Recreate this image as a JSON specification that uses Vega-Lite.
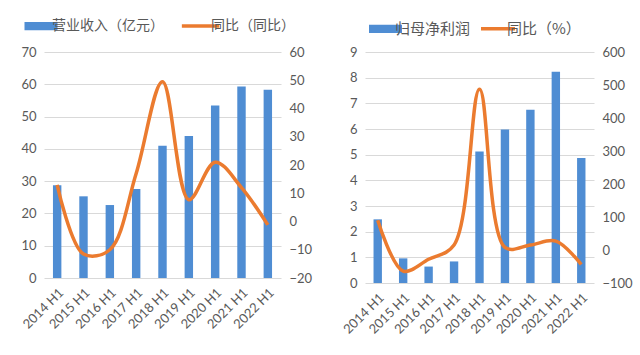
{
  "$schema": "https://vega.github.io/schema/vega-lite/v6.json",
  "background": "white",
  "padding": {"left": 20, "top": 19, "right": 5, "bottom": 5},
  "data": {"values": [
    {"period": "2014 H1", "rev": 28.7, "revYoY": 13, "np": 2.48, "npYoY": 90},
    {"period": "2015 H1", "rev": 25.3, "revYoY": -11.5, "np": 0.96, "npYoY": -64},
    {"period": "2016 H1", "rev": 22.6, "revYoY": -10, "np": 0.64, "npYoY": -28},
    {"period": "2017 H1", "rev": 27.6, "revYoY": 17, "np": 0.84, "npYoY": 15},
    {"period": "2018 H1", "rev": 41.0, "revYoY": 49.5, "np": 5.12, "npYoY": 487},
    {"period": "2019 H1", "rev": 44.0, "revYoY": 7.7, "np": 5.98, "npYoY": 8},
    {"period": "2020 H1", "rev": 53.4, "revYoY": 21, "np": 6.75, "npYoY": 15},
    {"period": "2021 H1", "rev": 59.3, "revYoY": 12, "np": 8.23, "npYoY": 27},
    {"period": "2022 H1", "rev": 58.3, "revYoY": -1.2, "np": 4.87, "npYoY": -44}
  ]},
  "spacing": 29,
  "hconcat": [
    {
      "width": 237,
      "height": 226,
      "resolve": {"scale": {"y": "independent"}},
      "layer": [
        {
          "mark": {"type": "bar"},
          "encoding": {
            "x": {"field": "period", "type": "ordinal", "sort": null, "scale": {"paddingInner": 0.68, "paddingOuter": 0.34}, "axis": {"labelAngle": -45, "title": null, "labelFontSize": 13}},
            "y": {"field": "rev", "type": "quantitative", "scale": {"domain": [0, 70]}, "axis": {"values": [0, 10, 20, 30, 40, 50, 60, 70], "title": null, "grid": true}},
            "color": {
              "datum": "营业收入（亿元）", "type": "nominal",
              "scale": {"domain": ["营业收入（亿元）", "同比（同比）"], "range": ["#4F8DD3", "#EB7B2F"]},
              "legend": {
                "orient": "none", "legendX": -10, "legendY": -33, "direction": "horizontal", "title": null,
                "symbolSize": 1089, "columnPadding": 10, "labelOffset": 4, "labelFontSize": 14,
                "encode": {"symbols": {"update": {
                  "shape": {"signal": "datum.value === '同比（同比）' ? 'M-1.1,0H1.15' : 'M-1,-0.25H1V0.25H-1Z'"},
                  "strokeWidth": {"signal": "datum.value === '同比（同比）' ? 3.5 : 0"},
                  "stroke": {"signal": "datum.value === '同比（同比）' ? '#EB7B2F' : '#4F8DD3'"},
                  "fill": {"signal": "datum.value === '同比（同比）' ? 'transparent' : '#4F8DD3'"},
                  "opacity": {"value": 1}
                }}}
              }
            }
          }
        },
        {
          "mark": {"type": "line", "interpolate": "catmull-rom", "strokeWidth": 3.5},
          "encoding": {
            "x": {"field": "period", "type": "ordinal", "sort": null},
            "y": {"field": "revYoY", "type": "quantitative", "scale": {"domain": [-20, 60]}, "axis": {"orient": "right", "values": [-20, -10, 0, 10, 20, 30, 40, 50, 60], "title": null, "grid": false}},
            "color": {"datum": "同比（同比）", "type": "nominal"}
          }
        }
      ]
    },
    {
      "width": 229,
      "height": 231,
      "resolve": {"scale": {"y": "independent"}},
      "layer": [
        {
          "mark": {"type": "bar"},
          "encoding": {
            "x": {"field": "period", "type": "ordinal", "sort": null, "scale": {"paddingInner": 0.67, "paddingOuter": 0.335}, "axis": {"labelAngle": -45, "title": null, "labelFontSize": 13}},
            "y": {"field": "np", "type": "quantitative", "scale": {"domain": [0, 9]}, "axis": {"values": [0, 1, 2, 3, 4, 5, 6, 7, 8, 9], "title": null, "grid": true}},
            "color": {
              "datum": "归母净利润", "type": "nominal",
              "scale": {"domain": ["归母净利润", "同比（%）"], "range": ["#4F8DD3", "#EB7B2F"]},
              "legend": {
                "orient": "none", "legendX": 13, "legendY": -31, "direction": "horizontal", "title": null,
                "symbolSize": 1089, "columnPadding": 3, "labelOffset": 2, "labelFontSize": 15,
                "encode": {"symbols": {"update": {
                  "shape": {"signal": "datum.value === '同比（%）' ? 'M-1,0H1.06' : 'M-1,-0.25H1V0.25H-1Z'"},
                  "strokeWidth": {"signal": "datum.value === '同比（%）' ? 3.5 : 0"},
                  "stroke": {"signal": "datum.value === '同比（%）' ? '#EB7B2F' : '#4F8DD3'"},
                  "fill": {"signal": "datum.value === '同比（%）' ? 'transparent' : '#4F8DD3'"},
                  "opacity": {"value": 1}
                }}}
              }
            }
          }
        },
        {
          "mark": {"type": "line", "interpolate": "catmull-rom", "strokeWidth": 3.5},
          "encoding": {
            "x": {"field": "period", "type": "ordinal", "sort": null},
            "y": {"field": "npYoY", "type": "quantitative", "scale": {"domain": [-100, 600]}, "axis": {"orient": "right", "values": [-100, 0, 100, 200, 300, 400, 500, 600], "title": null, "grid": false}},
            "color": {"datum": "同比（%）", "type": "nominal"}
          }
        }
      ]
    }
  ],
  "resolve": {"scale": {"color": "independent"}, "legend": {"color": "independent"}},
  "config": {
    "view": {"stroke": null},
    "axis": {"domain": false, "ticks": false, "labelFont": "Lato", "labelFontSize": 13, "labelColor": "#595959", "labelPadding": 8, "gridColor": "#d9d9d9", "gridWidth": 1},
    "legend": {"labelFont": "Noto Sans CJK SC", "labelFontSize": 14, "labelColor": "#595959"}
  }
}
